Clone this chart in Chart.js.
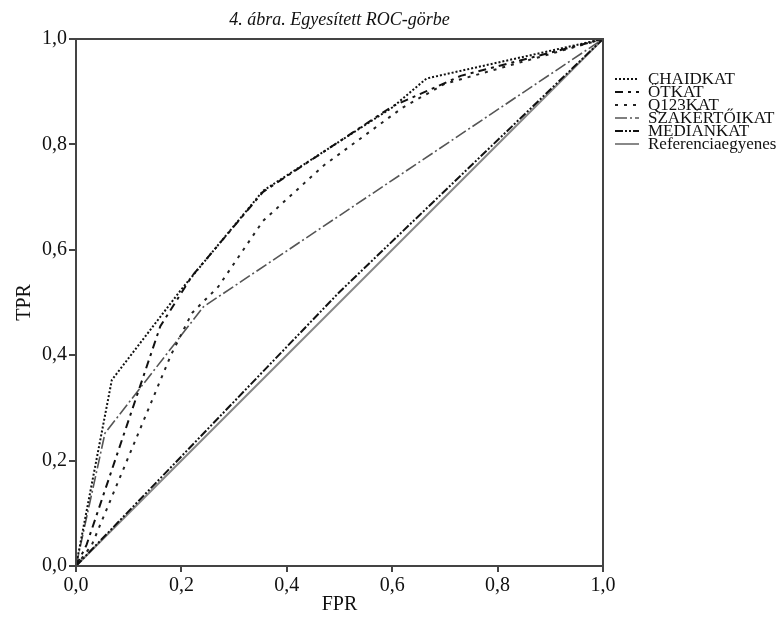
<!DOCTYPE html>
<html>
<head>
<meta charset="utf-8">
<script src="https://cdn.jsdelivr.net/npm/chart.js@4/dist/chart.umd.min.js"></script>
<style>
  html, body { margin: 0; padding: 0; background: #fff; }
  #wrap { width: 781px; height: 617px; }
</style>
</head>
<body>
<div id="wrap"><canvas id="roc"></canvas></div>
<script>
// ROC curves (FPR on x, TPR on y)
const seriesNames = ["CHAIDKAT", "ÖTKAT", "Q123KAT", "SZAKÉRTŐIKAT", "MEDIANKAT", "Referenciaegyenes"];

const chaidFpr = [0, 0.068, 0.2, 0.355, 0.6, 0.665, 1];
const chaidTpr = [0, 0.353, 0.525, 0.712, 0.87, 0.925, 1];

const otFpr = [0, 0.02, 0.16, 0.22, 0.355, 0.6, 0.73, 1];
const otTpr = [0, 0.04, 0.455, 0.55, 0.71, 0.872, 0.93, 1];

const q123Fpr = [0, 0.03, 0.18, 0.22, 0.27, 0.355, 0.47, 0.62, 0.7, 1];
const q123Tpr = [0, 0.04, 0.4, 0.48, 0.53, 0.655, 0.76, 0.87, 0.915, 1];

const szakFpr = [0, 0.055, 0.242, 1];
const szakTpr = [0, 0.252, 0.492, 1];

const medFpr = [0, 0.5, 1];
const medTpr = [0, 0.52, 1];

const refFpr = [0, 1];
const refTpr = [0, 1];

const xTicks = [0, 0.2, 0.4, 0.6, 0.8, 1];
const yTicks = [0, 0.2, 0.4, 0.6, 0.8, 1];

function pts(xs, ys) {
  return xs.map((x, i) => ({ x: x, y: ys[i] }));
}

const serif = "'Liberation Serif', 'DejaVu Serif', serif";
const fmt = v => Number(v).toFixed(1).replace(".", ",");

const styles = [
  { color: "#111", dash: [2, 2], width: 2 },
  { color: "#111", dash: [8, 5, 3, 5], width: 2 },
  { color: "#222", dash: [3, 6], width: 2 },
  { color: "#555", dash: [12, 3, 2, 3], width: 1.6 },
  { color: "#111", dash: [8, 2, 2, 2, 2, 2], width: 2 },
  { color: "#888", dash: [], width: 2 }
];

const allData = [
  pts(chaidFpr, chaidTpr),
  pts(otFpr, otTpr),
  pts(q123Fpr, q123Tpr),
  pts(szakFpr, szakTpr),
  pts(medFpr, medTpr),
  pts(refFpr, refTpr)
];

const datasets = allData.map((d, i) => ({
  label: seriesNames[i],
  data: d,
  borderColor: styles[i].color,
  borderDash: styles[i].dash,
  borderWidth: styles[i].width,
  pointRadius: 0,
  tension: 0,
  fill: false
}));

// title, frame, axis titles and legend
const decorations = {
  id: "decorations",
  afterDraw(chart) {
    const ctx = chart.ctx;
    const a = chart.chartArea;
    ctx.save();
    ctx.strokeStyle = "#444";
    ctx.lineWidth = 2;
    ctx.strokeRect(a.left, a.top, a.right - a.left, a.bottom - a.top);

    ctx.fillStyle = "#111";
    ctx.textAlign = "center";
    ctx.textBaseline = "middle";
    ctx.font = "italic 18px " + serif;
    ctx.fillText("4. ábra. Egyesített ROC-görbe", (a.left + a.right) / 2, 20);

    ctx.font = "20px " + serif;
    ctx.fillText("FPR", (a.left + a.right) / 2, 605);
    ctx.save();
    ctx.translate(25, (a.top + a.bottom) / 2);
    ctx.rotate(-Math.PI / 2);
    ctx.fillText("TPR", 0, 0);
    ctx.restore();

    ctx.font = "17px " + serif;
    ctx.textAlign = "left";
    chart.data.datasets.forEach((ds, i) => {
      const y = 79 + i * 13;
      ctx.save();
      ctx.strokeStyle = ds.borderColor;
      ctx.lineWidth = ds.borderWidth;
      ctx.setLineDash(ds.borderDash);
      ctx.beginPath();
      ctx.moveTo(615, y);
      ctx.lineTo(639, y);
      ctx.stroke();
      ctx.restore();
      ctx.fillText(ds.label, 648, y + 1);
    });
    ctx.restore();
  }
};

new Chart(document.getElementById("roc"), {
  type: "line",
  data: { datasets: datasets },
  options: {
    responsive: true,
    maintainAspectRatio: false,
    animation: false,
    layout: { padding: { left: 0, top: 39, right: 178, bottom: 0 } },
    plugins: {
      legend: { display: false },
      title: { display: false },
      tooltip: { enabled: false }
    },
    scales: {
      x: {
        type: "linear",
        min: 0,
        max: 1,
        afterFit: s => { s.height = 51; },
        afterBuildTicks: s => { s.ticks = xTicks.map(v => ({ value: v })); },
        ticks: {
          callback: fmt,
          color: "#111",
          font: { family: serif, size: 20 },
          padding: 2,
          maxRotation: 0
        },
        grid: { drawOnChartArea: false, drawTicks: true, tickLength: 6, color: "#444", lineWidth: 2 },
        border: { display: true, color: "#444", width: 2 }
      },
      y: {
        type: "linear",
        min: 0,
        max: 1,
        afterFit: s => { s.width = 76; },
        afterBuildTicks: s => { s.ticks = yTicks.map(v => ({ value: v })); },
        ticks: {
          callback: fmt,
          color: "#111",
          font: { family: serif, size: 20 },
          padding: 2
        },
        grid: { drawOnChartArea: false, drawTicks: true, tickLength: 7, color: "#444", lineWidth: 2 },
        border: { display: true, color: "#444", width: 2 }
      }
    }
  },
  plugins: [decorations]
});
</script>
</body>
</html>
